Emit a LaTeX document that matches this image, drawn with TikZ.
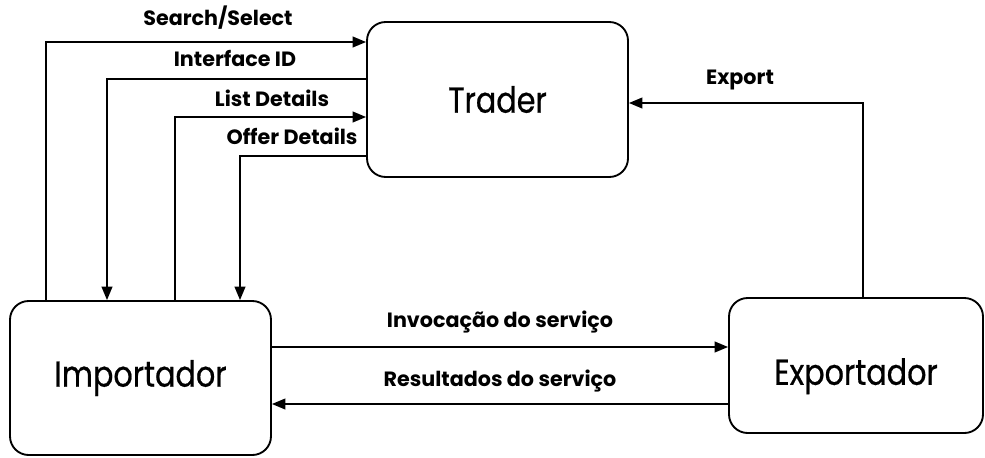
\documentclass[tikz,border=0pt]{standalone}
\usepackage{fontspec}
\setmainfont{Poppins}
\newfontfamily\boxfont{Poppins}[FakeStretch=0.84,FakeBold=0.6]
\usetikzlibrary{arrows.meta}
\tikzset{
  unit/.style={x=0.75pt,y=-0.75pt},
  party/.style={draw,line width=1.4pt,rounded corners=14pt,inner sep=0pt,
    font=\boxfont\fontsize{27}{30}\selectfont},
  flow/.style={line width=1.3pt,-{Triangle[length=10pt,width=8pt]}},
  lbl/.style={inner sep=0pt,font=\fontsize{15.5}{17}\selectfont\bfseries}
}
\begin{document}
\begin{tikzpicture}[unit]
\useasboundingbox (0,0) rectangle (985,457);
% the three parties
\node[party,minimum width=195.75pt,minimum height=116.25pt] (trader) at (497.5,99.5) {Trader};
\node[party,minimum width=195.75pt,minimum height=115.5pt] (imp) at (140.5,378) {Importador};
\node[party,minimum width=190.5pt,minimum height=101.25pt,
      text height=29pt,text depth=0pt] (exp) at (856,365.5) {Exportador};
% trader queries issued by the importer
\draw[flow]  (46,0 |- imp.north) |- (trader.west |- 0,42);
\draw[flow]  (trader.west |- 0,79) -| (107,0 |- imp.north);
\draw[flow]  (175,0 |- imp.north) |- (trader.west |- 0,117);
\draw[flow]  (trader.west |- 0,156) -| (240,0 |- imp.north);
% export of the offer
\draw[flow]  (863,0 |- exp.north) |- (trader.east |- 0,103);
% service invocation and results
\draw[flow]  (imp.east |- 0,347) -- (exp.west |- 0,347);
\draw[flow]  (exp.west |- 0,404) -- (imp.east |- 0,404);
% labels
\node[lbl] (l1) at (218,18) {Search/Select};
\node[lbl] (l2) at (235,58) {Interface ID};
\node[lbl] (l3) at (272,98) {List Details};
\node[lbl] (l4) at (292,136) {Offer Details};
\node[lbl] (l5) at (740,80) {Export};
\node[lbl] (l6) at (500,322) {Invocação do serviço};
\node[lbl] (l7) at (500,381) {Resultados do serviço};
\end{tikzpicture}
\end{document}
